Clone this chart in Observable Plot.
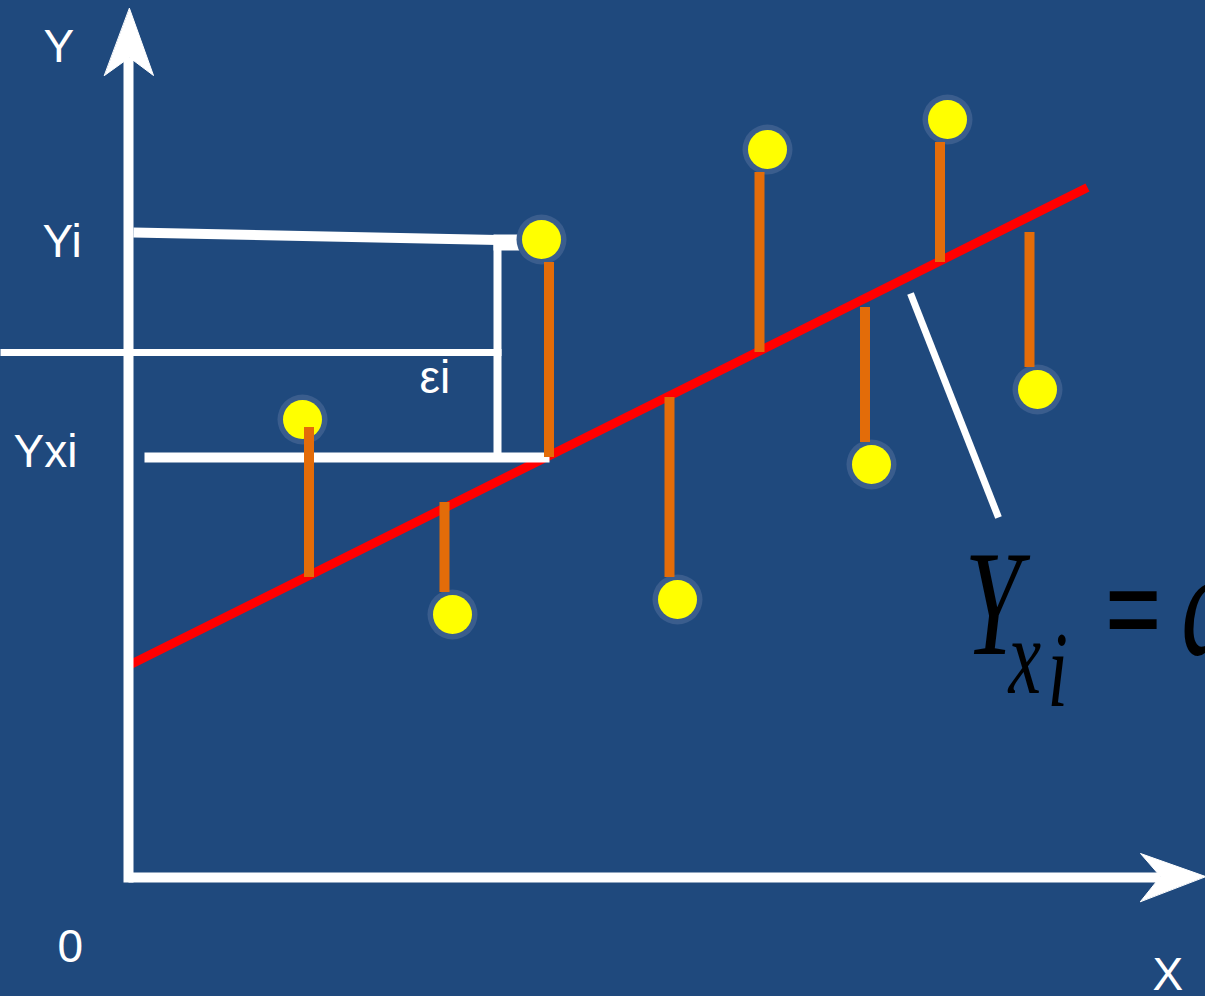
<!DOCTYPE html>
<html>
<head>
<meta charset="utf-8">
<script src="https://cdn.jsdelivr.net/npm/d3@7"></script>
<script src="https://cdn.jsdelivr.net/npm/@observablehq/plot@0.6"></script>
<style>
  html, body { margin: 0; padding: 0; background: #1F497D; overflow: hidden; }
  #chart svg { display: block; }
</style>
</head>
<body>
<div id="chart"></div>
<script>
// Coordinate system: origin at the axes' corner, units ≈ pixels of the reference.

// Observations (yellow dots)
const dotX = [174, 324, 413, 549, 639, 743, 819, 909];
const dotY = [458, 263, 638, 278, 728, 413, 758, 488];

// Residual stems (orange): x, start on the regression line, end near the dot
const stemX  = [180.5, 316, 420.5, 541, 631, 736.5, 811.5, 901];
const stemY1 = [300, 375, 420, 480, 525, 570, 615, 645];
const stemY2 = [450, 285, 615, 300, 705, 435, 735, 510];

// Regression line endpoints
const fitX = [0, 959];
const fitY = [212, 690];

// White construction lines: x1, y1, x2, y2, width
const segX1 = [5, 365, 369, -128, 16, 782, 0, 0];
const segY1 = [645, 635, 637, 525, 420, 584, -5, 0];
const segX2 = [391, 391, 369, 373, 421, 870, 0, 1032];
const segY2 = [637, 635, 420, 525, 420, 360, 820, 0];
const segW  = [10, 16, 8, 7, 10, 7, 10, 10];

// Axis arrowheads (polygons)
const arrowId = ["Y", "Y", "Y", "Y", "X", "X", "X", "X"];
const arrowX  = [1, 25, 1, -24, 1077, 1012, 1032, 1012];
const arrowY  = [869, 802, 820, 802, 1, 24, 1, -24];

// Labels
const labelText = ["Y", "Yi", "Yxi", "0", "X", "εi"];
const labelX    = [-85, -86, -115, -71, 1024, 291];
const labelY    = [816, 621, 411, -84, -112, 485];

// Formula pieces (compressed horizontally, like the reference equation object)
const formText   = ["Y", "x", "i", "=", "a + bxi"];
const formX      = [836, 880, 919, 1005, 1053];
const formY      = [224, 185, 172, 221, 224];
const formSize   = [150, 108, 108, 140, 150];
const formStyle  = ["italic", "italic", "italic", "normal", "italic"];
const formWeight = ["normal", "normal", "normal", "bold", "normal"];
const formAnchor = ["start", "start", "start", "middle", "start"];
const formSquash = [0.68, 0.68, 0.68, 0.72, 0.68];

const idx = n => d3.range(n);

const chart = Plot.plot({
  width: 1205,
  height: 996,
  margin: 0,
  style: { background: "#1F497D", overflow: "hidden" },
  x: { domain: [-128, 1077], range: [0, 1205], axis: null },
  y: { domain: [-119, 877], range: [996, 0], axis: null },
  marks: [
    Plot.line(idx(2), { x: i => fitX[i], y: i => fitY[i], stroke: "#FF0000", strokeWidth: 9, strokeLinecap: "butt" }),
    Plot.link(idx(segX1.length), {
      x1: i => segX1[i], y1: i => segY1[i], x2: i => segX2[i], y2: i => segY2[i],
      stroke: "white", strokeWidth: i => segW[i], strokeLinecap: "butt"
    }),
    Plot.line(idx(arrowX.length), {
      x: i => arrowX[i], y: i => arrowY[i], z: i => arrowId[i],
      fill: "white", stroke: "white", strokeWidth: 1, curve: "linear-closed"
    }),
    Plot.dot(idx(dotX.length), { x: i => dotX[i], y: i => dotY[i], r: 25, fill: "#3A5D8D", stroke: null }),
    Plot.dot(idx(dotX.length), { x: i => dotX[i], y: i => dotY[i], r: 19.5, fill: "#FFFF00", stroke: null }),
    Plot.ruleX(idx(stemX.length), { x: i => stemX[i], y1: i => stemY1[i], y2: i => stemY2[i], stroke: "#E36C09", strokeWidth: 10 }),
    Plot.text(idx(labelText.length), {
      x: i => labelX[i], y: i => labelY[i], text: i => labelText[i],
      fill: "white", fontSize: 46, fontFamily: "Liberation Sans, Arial, sans-serif",
      textAnchor: "start", lineAnchor: "bottom"
    }),
    ...idx(formText.length).map(i =>
      Plot.text([formText[i]], {
        x: () => formX[i], y: () => formY[i], text: d => d,
        fill: "black", fontSize: formSize[i], fontStyle: formStyle[i], fontWeight: formWeight[i],
        fontFamily: `Liberation Serif, Times New Roman, serif`,
        textAnchor: formAnchor[i], lineAnchor: "bottom",
        title: () => `squash-${i}`
      })
    )
  ]
});

// Squash the equation glyphs horizontally around their anchor point.
d3.select(chart).selectAll("g").filter(function () {
  const f = this.getAttribute("font-family");
  return f && f.startsWith("Liberation Serif");
}).each(function (_, gi) {
  const s = formSquash[gi] ?? 0.68;
  d3.select(this).selectAll("text").each(function () {
    d3.select(this).select("title").remove();
    const t = this.getAttribute("transform");
    if (t) {
      this.setAttribute("transform", t + ` scale(${s},1)`);
    } else {
      const x = +this.getAttribute("x") || 0, y = +this.getAttribute("y") || 0;
      this.setAttribute("transform", `translate(${x},${y}) scale(${s},1) translate(${-x},${-y})`);
    }
  });
});

document.getElementById("chart").appendChild(chart);
</script>
</body>
</html>
